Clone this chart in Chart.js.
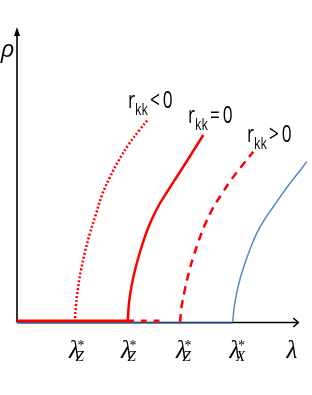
<!DOCTYPE html>
<html>
<head>
<meta charset="utf-8">
<script src="https://cdn.jsdelivr.net/npm/chart.js@4.4.1/dist/chart.umd.min.js"></script>
<style>
  html, body { margin: 0; padding: 0; background: #fff; }
  #wrap { width: 312px; height: 395px; position: relative; }
</style>
</head>
<body>
<div id="wrap"><canvas id="chart"></canvas></div>
<script>
// ── Data (λ, ρ in arbitrary units) ─────────────────────────
// r_kk < 0 (dotted)
const ltLambda = [5.77, 5.9, 6.1, 6.4, 6.8, 7.3, 7.9, 8.5, 9.3, 10.2, 11.2, 12.25, 13.13];
const ltRho    = [0, 1.7, 3.4, 5.2, 7.0, 8.9, 10.8, 12.7, 14.5, 16.2, 17.8, 19.2, 20.27];
// r_kk = 0 (solid)
const eqLambda = [11.07, 11.2, 11.47, 11.85, 12.3, 12.85, 13.47, 14.2, 15.13, 16.0, 16.9, 17.75, 18.63];
const eqRho    = [0, 1.9, 3.7, 5.4, 7.0, 8.7, 10.25, 11.7, 13.2, 14.55, 15.95, 17.3, 18.7];
// r_kk > 0 (dashed)
const gtLambda = [16.3, 16.5, 16.8, 17.2, 17.63, 18.2, 18.8, 19.6, 20.47, 21.2, 21.97, 22.8, 23.63];
const gtRho    = [0, 1.8, 3.3, 5.0, 6.5, 8.2, 9.75, 11.4, 12.8, 13.9, 14.95, 16.0, 17.03];
// X branch (blue)
const xLambda  = [21.57, 21.72, 21.97, 22.33, 22.8, 23.35, 23.97, 24.75, 25.63, 26.45, 27.3, 28.15, 28.97];
const xRho     = [0, 1.5, 2.9, 4.4, 5.87, 7.4, 8.87, 10.25, 11.53, 12.7, 13.87, 14.95, 16.03];

// flat parts on the λ axis
const redFlatLambda  = [0, 11.07];
const redDashLambda  = [11.07, 14.6];
const blueFlatLambda = [0, 21.57];

// tick labels under the axis
const tickPos    = [5.75, 10.95, 16.45, 21.8];
const tickSub    = ['Z', 'Z', 'Z', 'X'];
const axisLabelX = 'λ';
const axisLabelY = 'ρ';
const notes = [
  { lam: 11.1, rho: 21.4, sym: '<' },
  { lam: 17.1, rho: 19.9, sym: '=' },
  { lam: 23.0, rho: 18.0, sym: '>' },
];

const zip = (xs, ys) => xs.map((x, i) => ({ x, y: ys[i] }));
const flat = (xs, y) => xs.map(x => ({ x, y }));

const RED = '#ff0000', BLUE = '#5a8ac6';

const overlay = {
  id: 'overlay',
  beforeDatasetsDraw(chart) {
    const { ctx, scales: { x, y } } = chart;
    const x0 = x.getPixelForValue(0), y0 = y.getPixelForValue(0);
    const xEnd = x.getPixelForValue(28.13), yTop = y.getPixelForValue(29.5);
    ctx.save();
    ctx.strokeStyle = '#000'; ctx.fillStyle = '#000'; ctx.lineWidth = 1.6;
    ctx.beginPath();
    ctx.moveTo(x0, y0 + 0.5); ctx.lineTo(xEnd, y0 + 0.5);
    ctx.moveTo(x0, y0 + 0.5); ctx.lineTo(x0, yTop + 5);
    ctx.stroke();
    // y arrowhead (filled)
    ctx.beginPath();
    ctx.moveTo(x0, yTop); ctx.lineTo(x0 - 3, yTop + 9); ctx.lineTo(x0 + 3, yTop + 9);
    ctx.closePath(); ctx.fill();
    // x arrowhead (open)
    ctx.beginPath();
    ctx.moveTo(xEnd - 5, y0 - 4); ctx.lineTo(xEnd, y0 + 0.5); ctx.lineTo(xEnd - 5, y0 + 5);
    ctx.stroke();
    ctx.restore();
  },
  afterDatasetsDraw(chart) {
    const { ctx, scales: { x, y } } = chart;
    const y0 = y.getPixelForValue(0);
    ctx.save();
    ctx.fillStyle = '#000';
    ctx.textBaseline = 'alphabetic';
    // λ* tick labels
    tickPos.forEach((t, i) => {
      const px = x.getPixelForValue(t), py = y0 + 36;
      ctx.font = 'italic 25px "Liberation Serif"';
      ctx.textAlign = 'center';
      ctx.fillText('λ', px, py);
      ctx.textAlign = 'left';
      ctx.font = '14px "Liberation Serif"';
      ctx.fillText('*', px + 3, py - 8);
      ctx.font = 'italic 15px "Liberation Serif"';
      ctx.fillText(tickSub[i], px + 1, py + 3);
    });
    ctx.font = 'italic 25px "Liberation Serif"';
    ctx.textAlign = 'center';
    ctx.fillText(axisLabelX, x.getPixelForValue(27.5), y0 + 36);
    ctx.font = 'italic 24px "Open Sans"';
    ctx.fillText(axisLabelY, x.getPixelForValue(-0.95), y.getPixelForValue(26.5));
    // r_kk notes
    notes.forEach(n => {
      const px = x.getPixelForValue(n.lam), py = y.getPixelForValue(n.rho);
      ctx.save();
      ctx.translate(px, py);
      ctx.scale(0.72, 1);
      ctx.textAlign = 'left';
      let cx = 0;
      ctx.font = '24px "Open Sans"';
      ctx.fillText('r', 0, 0); cx += ctx.measureText('r').width;
      ctx.font = '17px "Open Sans"';
      ctx.fillText('kk', cx, 7); cx += ctx.measureText('kk').width + 3;
      ctx.font = '24px "Open Sans"';
      ctx.fillText(n.sym, cx, 0); cx += ctx.measureText(n.sym).width + 4;
      ctx.fillText('0', cx, 0);
      ctx.restore();
    });
    ctx.restore();
  }
};

const line = (data, color, width, dash) => ({
  data, showLine: true, borderColor: color, borderWidth: width, borderDash: dash || [],
  pointRadius: 0, tension: 0.4, fill: false, clip: false,
});

new Chart(document.getElementById('chart'), {
  type: 'scatter',
  data: {
    datasets: [
      line(flat(blueFlatLambda, -0.12), BLUE, 1.5),
      line(zip(xLambda, xRho), BLUE, 1.5),
      line(flat(redFlatLambda, 0.1), RED, 3),
      line(flat(redDashLambda, 0.1), RED, 3, [6, 7]),
      line(zip(ltLambda, ltRho), RED, 2.5, [2, 2]),
      line(zip(eqLambda, eqRho), RED, 2.5),
      line(zip(gtLambda, gtRho), RED, 2.5, [8, 6]),
    ]
  },
  options: {
    responsive: true, maintainAspectRatio: false, animation: false,
    layout: { padding: { left: 17, right: 0, top: 22, bottom: 73 } },
    plugins: { legend: { display: false }, tooltip: { enabled: false } },
    scales: {
      x: { type: 'linear', min: 0, max: 29.5, display: false },
      y: { type: 'linear', min: 0, max: 30, display: false },
    }
  },
  plugins: [overlay]
});
</script>
</body>
</html>
